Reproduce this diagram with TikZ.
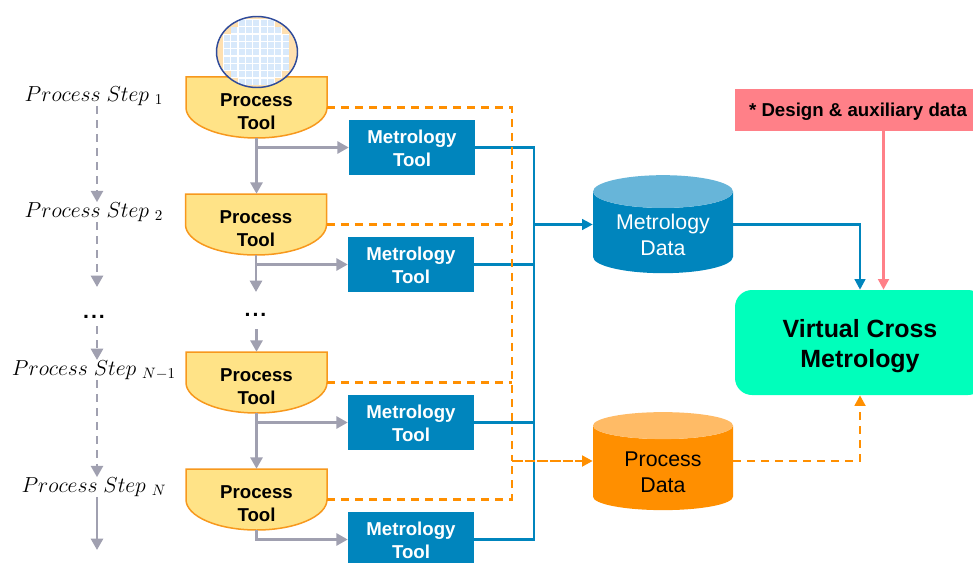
\documentclass[tikz,border=0pt]{standalone}
\usepackage[no-math]{fontspec}
\setmainfont{Liberation Sans}
\usetikzlibrary{positioning,arrows.meta,shapes.geometric}
\definecolor{toolfill}{HTML}{FFE387}
\definecolor{toolline}{HTML}{F7981D}
\definecolor{metroblue}{HTML}{0085BD}
\definecolor{metrotop}{HTML}{67B5D9}
\definecolor{procorange}{HTML}{FF8F00}
\definecolor{proctop}{HTML}{FFBB66}
\definecolor{flowgray}{HTML}{A0A0B0}
\definecolor{designpink}{HTML}{FF8088}
\definecolor{vcmgreen}{HTML}{00FFBB}
\definecolor{waferline}{HTML}{2F4B9B}
\definecolor{waferbg}{HTML}{FFE0B0}
\definecolor{wafercell}{HTML}{D8E9FB}
\tikzset{
  toolshape/.style={draw=toolline,fill=toolfill,line width=1.5pt*0.75},
  tool/.style={
    minimum width=141*0.75pt,
    minimum height=61*0.75pt,
    inner sep=0pt,
    align=center,
    font=\fontsize{14}{17.25}\selectfont\bfseries
  },
  metro/.style={
    fill=metroblue,
    text=white,
    minimum width=126*0.75pt,
    minimum height=55*0.75pt,
    inner sep=0pt,
    align=center,
    font=\fontsize{14}{17.25}\selectfont\bfseries
  },
  datastore/.style={
    cylinder,
    shape border rotate=90,
    cylinder uses custom fill,
    aspect=0.35,
    minimum width=140*0.75pt,
    minimum height=98*0.75pt,
    inner sep=0pt,
    align=center,
    font=\fontsize{16}{19.5}\selectfont
  },
  steplabel/.style={inner sep=0pt,scale=1.13,font=\fontsize{14}{17}\selectfont},
  dotlabel/.style={inner sep=0pt,anchor=base,font=\fontsize{16}{18}\selectfont\bfseries},
  flow/.style={draw=flowgray,line width=2pt,-{Triangle[length=8.5pt,width=9pt]}},
  flowdash/.style={flow,dash pattern=on 6pt off 4.5pt},
  blueline/.style={draw=metroblue,line width=1.8pt},
  bluearrow/.style={blueline,-{Triangle[length=8pt,width=8pt]}},
  orangeline/.style={draw=procorange,line width=2pt,dash pattern=on 6pt off 4.5pt},
  orangearrow/.style={orangeline,-{Triangle[length=8pt,width=8pt]}},
  pinkarrow/.style={draw=designpink,line width=2pt,-{Triangle[length=8pt,width=8pt]}}
}
% tool outline first, its node on top: name, centre x, centre y
\newcommand{\processtool}[3]{
  \draw[toolshape] (#2-70.5,#3-30.5) -- (#2+70.5,#3-30.5) -- (#2+70.5,#3)
    arc[start angle=0,end angle=180,x radius=70.5,y radius=30.5] -- cycle;
  \node[tool] (#1) at (#2,#3) {\rule{0pt}{16pt}Process\\Tool};
}
\begin{document}
\begin{tikzpicture}[x=0.75pt,y=-0.75pt]
  \useasboundingbox (0,0) rectangle (973,563);
  \clip (0,0) rectangle (973,563);

  % process tools
  \processtool{tool_one}{256.5}{107.5}
  \processtool{tool_two}{256}{224.5}
  \processtool{tool_three}{256.5}{382.5}
  \processtool{tool_four}{256.5}{499.5}

  % wafer
  \begin{scope}
    \clip (257,52) ellipse [x radius=40.5,y radius=35.5];
    \fill[waferbg] (257,52) ellipse [x radius=40.5,y radius=35.5];
    \foreach \i in {0,...,8}{
      \foreach \j in {0,...,8}{
        \pgfmathtruncatemacro{\cellrank}{abs(\i-4)+abs(\j-4)}
        \ifnum\cellrank<7
          \fill[white] (223.3+\i*7.33,19.3+\j*7.33) rectangle +(7.4,7.4);
          \fill[wafercell] (224+\i*7.33,20+\j*7.33) rectangle +(6,6);
        \fi
      }
    }
  \end{scope}
  \draw[waferline,line width=1.1pt] (257,52) ellipse [x radius=40.5,y radius=35.5];

  % metrology tools
  \node[metro] (metro_one) at (412,147.5) {\rule{0pt}{12pt}Metrology\\Tool};
  \node[metro] (metro_two) at (411,264.5) {\rule{0pt}{12pt}Metrology\\Tool};
  \node[metro] (metro_three) at (411,422.5) {\rule{0pt}{12pt}Metrology\\Tool};
  \node[metro] (metro_four) at (411,539.5) {\rule{0pt}{12pt}Metrology\\Tool};

  % data
  \node[datastore,text=white,cylinder body fill=metroblue,cylinder end fill=metrotop] (metro_data) at (663,232.5) {\rule{0pt}{15pt}Metrology\\Data};
  \node[datastore,cylinder body fill=procorange,cylinder end fill=proctop] (proc_data) at (663,468) {\rule{0pt}{18pt}Process\\Data};

  % right side
  \node[fill=designpink,minimum width=246*0.75pt,minimum height=42*0.75pt,inner sep=0pt,text depth=0pt,font=\fontsize{14}{17}\selectfont\bfseries] (design) at (858,110) {* Design \& auxiliary data};
  \node[fill=vcmgreen,rounded corners=17*0.75pt,minimum width=250*0.75pt,minimum height=105*0.75pt,inner sep=0pt,align=center,font=\fontsize{18.7}{22.3}\selectfont\bfseries] (vcm) at (860,342.5) {\rule{0pt}{19pt}Virtual Cross\\Metrology};

  % step labels
  \node[steplabel] (step_one) at (94,96) {$Process\ Step\ _{1}$};
  \node[steplabel] (step_two) at (94,212) {$Process\ Step\ _{2}$};
  \node[steplabel] (step_three) at (94,370) {$Process\ Step\ _{N-1}$};
  \node[steplabel] (step_four) at (94,487) {$Process\ Step\ _{N}$};
  \node[dotlabel,outer ysep=6pt] (dots_left) at (94,318) {.\kern1.5pt.\kern1.5pt.};
  \node[dotlabel,outer ysep=10pt] (dots_mid) at (255.5,316) {.\kern1.5pt.\kern1.5pt.};

  \coordinate (step_x) at (97,0);
  \coordinate (dash_end) at (97,287);
  \coordinate (step_end) at (97,550);
  \coordinate (pink_x) at (883.5,0);
  \coordinate (blue_bus) at (534,224.5);
  \coordinate (orange_bus) at (512,461);
  \coordinate (mid_end) at (256,292);

  % step arrows
  \draw[flowdash] (step_one.south -| step_x) -- (step_two.north -| step_x);
  \draw[flowdash] (step_two.south -| step_x) -- (dash_end);
  \draw[flowdash] (dots_left.south -| step_x) -- (step_three.north -| step_x);
  \draw[flowdash] (step_three.south -| step_x) -- (step_four.north -| step_x);
  \draw[flow] (step_four.south -| step_x) -- (step_end);

  % tool flow
  \draw[flow] (tool_one.south) -- (tool_one.south |- tool_two.north);
  \draw[flow] (tool_one.south |- metro_one.west) -- (metro_one.west);
  \draw[flow] (tool_two.south) -- (mid_end);
  \draw[flow] (tool_two.south |- metro_two.west) -- (metro_two.west);
  \draw[flow] (tool_three.north |- dots_mid.south) -- (tool_three.north);
  \draw[flow] (tool_three.south) -- (tool_four.north);
  \draw[flow] (tool_three.south |- metro_three.west) -- (metro_three.west);
  \draw[flow] (tool_four.south) |- (metro_four.west);

  % metrology to data
  \draw[blueline] (metro_one.east) -| (blue_bus);
  \draw[blueline] (metro_two.east) -| (blue_bus);
  \draw[blueline] (metro_three.east) -| (blue_bus);
  \draw[blueline] (metro_four.east) -| (blue_bus);
  \draw[bluearrow] (blue_bus) -- (blue_bus -| metro_data.west);

  % tool to data
  \draw[orangeline] (tool_one.east) -| (orange_bus);
  \draw[orangeline] (tool_two.east) -- (tool_two.east -| orange_bus);
  \draw[orangeline] (tool_three.east) -- (tool_three.east -| orange_bus);
  \draw[orangeline] (tool_four.east) -| (orange_bus);
  \draw[orangearrow,dash pattern=on 8pt off 1.5pt] (orange_bus) -- (orange_bus -| proc_data.west);

  % into virtual metrology
  \draw[bluearrow] (blue_bus -| metro_data.east) -| (vcm.north);
  \draw[orangearrow] (orange_bus -| proc_data.east) -| (vcm.south);
  \draw[pinkarrow] (design.south -| pink_x) -- (vcm.north -| pink_x);
\end{tikzpicture}
\end{document}
